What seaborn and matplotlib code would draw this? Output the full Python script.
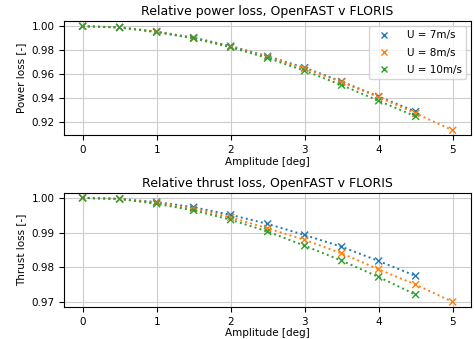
import pandas as pd
import matplotlib
matplotlib.use("Agg")
import matplotlib.pyplot as plt
import seaborn as sns

amp_7 = [0, 0.5, 1, 1.5, 2, 2.5, 3, 3.5, 4, 4.5]
amp_8 = [0, 0.5, 1, 1.5, 2, 2.5, 3, 3.5, 4, 4.5, 5]
amp_10 = [0, 0.5, 1, 1.5, 2, 2.5, 3, 3.5, 4, 4.5]

power_7 = [1.0, 0.999, 0.9955, 0.9905, 0.9835, 0.975, 0.9655, 0.954, 0.9415, 0.929]
power_8 = [1.0, 0.999, 0.9955, 0.990, 0.983, 0.9745, 0.965, 0.9535, 0.941, 0.9275, 0.9135]
power_10 = [1.0, 0.999, 0.995, 0.990, 0.9825, 0.9735, 0.963, 0.951, 0.938, 0.925]

thrust_7 = [1.0, 0.9997, 0.9988, 0.9973, 0.9951, 0.9925, 0.9893, 0.9859, 0.9818, 0.9775]
thrust_8 = [1.0, 0.9997, 0.9986, 0.9969, 0.9944, 0.9912, 0.9879, 0.9840, 0.9794, 0.9750, 0.9700]
thrust_10 = [1.0, 0.9997, 0.9983, 0.9964, 0.9937, 0.9903, 0.9862, 0.9819, 0.9772, 0.9721]

labels = ["U = 7m/s", "U = 8m/s", "U = 10m/s"]
colors = ["tab:blue", "tab:orange", "tab:green"]


def build(series):
    rows = []
    for lab, amps, vals in zip(labels, [amp_7, amp_8, amp_10], series):
        for a, v in zip(amps, vals):
            rows.append({"amp": a, "val": v, "case": lab})
    return pd.DataFrame(rows)


df_power = build([power_7, power_8, power_10])
df_thrust = build([thrust_7, thrust_8, thrust_10])

fig, axes = plt.subplots(2, 1, figsize=(4.75, 3.39), dpi=100)
fig.subplots_adjust(left=0.135, right=0.992, top=0.938, bottom=0.094, hspace=0.5)

panels = [
    (axes[0], df_power, "Relative power loss, OpenFAST v FLORIS", "Power loss [-]", True),
    (axes[1], df_thrust, "Relative thrust loss, OpenFAST v FLORIS", "Thrust loss [-]", False),
]

for ax, df, title, ylabel, show_legend in panels:
    sns.lineplot(data=df, x="amp", y="val", hue="case", palette=colors,
                 linestyle=":", linewidth=1.4, legend=False, ax=ax)
    sns.scatterplot(data=df, x="amp", y="val", hue="case", palette=colors,
                    marker="x", s=25, linewidth=1.0, legend=show_legend, ax=ax)
    ax.set_title(title, fontsize=9, pad=4)
    ax.set_xlabel("Amplitude [deg]", fontsize=7.5, labelpad=1)
    ax.set_ylabel(ylabel, fontsize=7.5)
    ax.tick_params(labelsize=7.5)
    ax.set_xticks([0, 1, 2, 3, 4, 5])
    ax.grid(True, color="#cccccc", linewidth=0.8)
    ax.set_axisbelow(True)

axes[0].set_yticks([0.92, 0.94, 0.96, 0.98, 1.00])
axes[1].set_yticks([0.97, 0.98, 0.99, 1.00])
axes[0].legend(loc="upper right", fontsize=7.5, title=None, handletextpad=1.2,
               labelspacing=0.7)

fig.savefig("out.png", dpi=100)
